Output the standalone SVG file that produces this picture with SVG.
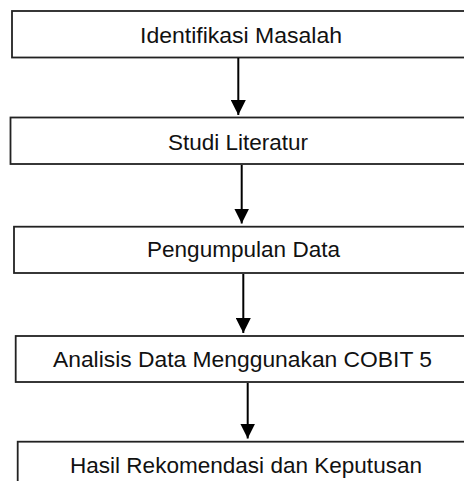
<svg xmlns="http://www.w3.org/2000/svg" width="464" height="481" viewBox="0 0 464 481">
<style>
.box{fill:#fff;stroke:#222;stroke-width:1.8}
.lbl{font-family:"Liberation Sans",Arial,sans-serif;font-size:22px;fill:#111;text-anchor:middle}
.conn line{stroke:#000;stroke-width:2}
</style>
<defs>
<marker id="ah" markerWidth="15" markerHeight="15" refX="15" refY="7.5" orient="auto" markerUnits="userSpaceOnUse">
<path d="M0,0 L15,7.5 L0,15 Z" fill="#000"/>
</marker>
</defs>
<rect width="464" height="481" fill="#fff"/>
<g id="n1"><rect class="box" x="12" y="11" width="470" height="46.5"/><text class="lbl" x="241" y="43" textLength="202" lengthAdjust="spacingAndGlyphs">Identifikasi Masalah</text></g>
<g id="n2"><rect class="box" x="10.5" y="117.5" width="470" height="46.5"/><text class="lbl" x="238" y="150" textLength="140" lengthAdjust="spacingAndGlyphs">Studi Literatur</text></g>
<g id="n3"><rect class="box" x="14" y="226.7" width="470" height="46.3"/><text class="lbl" x="243.5" y="257" textLength="193" lengthAdjust="spacingAndGlyphs">Pengumpulan Data</text></g>
<g id="n4"><rect class="box" x="15.7" y="336" width="470" height="46"/><text class="lbl" x="242.5" y="367" textLength="379" lengthAdjust="spacingAndGlyphs">Analisis Data Menggunakan COBIT 5</text></g>
<g id="n5"><rect class="box" x="17.7" y="441.7" width="470" height="60"/><text class="lbl" x="246" y="473" textLength="352" lengthAdjust="spacingAndGlyphs">Hasil Rekomendasi dan Keputusan</text></g>
<g class="conn">
<line x1="238.3" y1="58" x2="238.3" y2="115" marker-end="url(#ah)"/>
<line x1="241.7" y1="165" x2="241.7" y2="223.5" marker-end="url(#ah)"/>
<line x1="243.3" y1="274" x2="243.3" y2="333" marker-end="url(#ah)"/>
<line x1="247.7" y1="383" x2="247.7" y2="438.5" marker-end="url(#ah)"/>
</g>
</svg>
